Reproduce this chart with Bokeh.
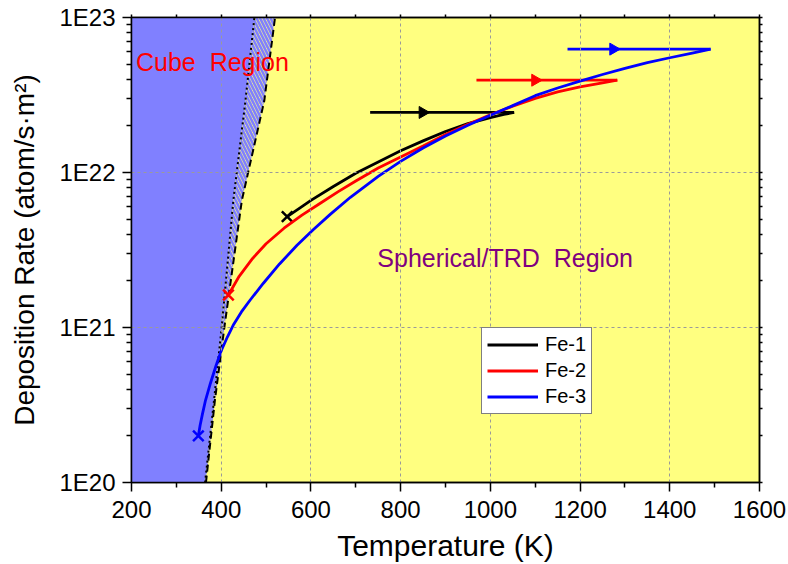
import math
from bokeh.plotting import figure
from bokeh.models import (FixedTicker, CustomJSTickFormatter, Legend, LegendItem,
                          Range1d, Label, LinearAxis, LogAxis)
from bokeh.embed import file_html
from bokeh.resources import INLINE

FONT = "Liberation Sans"

# ---- axes / ticks ----
x_ticks = [200, 400, 600, 800, 1000, 1200, 1400, 1600]
x_minor = [300, 500, 700, 900, 1100, 1300, 1500]
y_ticks = [1e20, 1e21, 1e22, 1e23]
y_minor = [k * 10.0 ** e for e in (20, 21, 22) for k in range(2, 10)]

# ---- region boundaries (deposition rate vs. limiting temperature) ----
boundary_rate = [1e20, 3.4e20, 1e21, 6.6e21, 2.9e22, 1e23]
cube_limit_T = [364, 384, 401, 427, 454, 474]      # dotted line
trd_limit_T = [366, 386, 407, 446, 496, 520]       # dashed line

# ---- series ----
fe1_T = [547, 575, 600, 650, 700, 750, 800, 850, 900, 950, 1000, 1030, 1053]
fe1_rate = [5.19e21, 5.89e21, 6.61e21, 8.13e21, 9.89e21, 1.17e22, 1.38e22,
            1.60e22, 1.84e22, 2.07e22, 2.26e22, 2.37e22, 2.44e22]

fe2_T = [416, 440, 470, 500, 540, 580, 620, 660, 700, 750, 800, 850, 900,
         950, 1000, 1050, 1100, 1150, 1200, 1250, 1283]
fe2_rate = [1.62e21, 2.14e21, 2.79e21, 3.47e21, 4.37e21, 5.31e21, 6.31e21,
            7.50e21, 8.81e21, 1.07e22, 1.26e22, 1.48e22, 1.76e22, 2.05e22,
            2.36e22, 2.68e22, 3.01e22, 3.31e22, 3.57e22, 3.78e22, 3.94e22]

fe3_T = [349, 353, 358, 365, 376, 388, 400, 414, 428, 445, 465, 494, 530, 569,
         605, 643, 688, 750, 800, 850, 900, 950, 1000, 1050, 1100, 1150, 1200,
         1250, 1300, 1350, 1400, 1450, 1491]
fe3_rate = [2.00e20, 2.34e20, 2.75e20, 3.39e20, 4.37e20, 5.62e20, 7.08e20,
            8.71e20, 1.05e21, 1.26e21, 1.51e21, 1.93e21, 2.57e21, 3.39e21,
            4.27e21, 5.37e21, 6.92e21, 9.44e21, 1.18e22, 1.44e22, 1.72e22,
            2.02e22, 2.34e22, 2.70e22, 3.13e22, 3.51e22, 3.89e22, 4.29e22,
            4.70e22, 5.11e22, 5.50e22, 5.89e22, 6.25e22]

# horizontal arrows (start T, end T, rate, arrow-head T)
arrow_start_T = [732, 969, 1172]
arrow_end_T = [1053, 1283, 1491]
arrow_rate = [2.44e22, 3.94e22, 6.25e22]
arrow_head_T = [849, 1100, 1274]

names = ["Fe-1", "Fe-2", "Fe-3"]
colors = ["black", "red", "blue"]

p = figure(width=788, height=564, x_range=Range1d(200, 1600),
           y_range=Range1d(1e20, 1e23), y_axis_type="log",
           output_backend="svg", toolbar_location=None,
           min_border_left=131, min_border_right=29, min_border_top=17,
           min_border_bottom=81)
p.background_fill_color = "#FFFF80"
p.border_fill_color = "white"
p.outline_line_color = "black"
p.outline_line_width = 1.5

# region fills
xmin = 200
blue_x = [xmin] + cube_limit_T + [xmin]
blue_y = [boundary_rate[0]] + boundary_rate + [boundary_rate[-1]]
p.patch(blue_x, blue_y, fill_color="#8080FF", line_color=None, level="underlay")
hatch_x = cube_limit_T + trd_limit_T[::-1]
hatch_y = boundary_rate + boundary_rate[::-1]
p.patch(hatch_x, hatch_y, fill_color="#FFFF80", line_color=None,
        hatch_pattern="\\", hatch_color="#8080FF", hatch_weight=2.6,
        hatch_scale=7, level="underlay")

p.line(cube_limit_T, boundary_rate, line_color="black", line_width=2,
       line_dash="2 3")
p.line(trd_limit_T, boundary_rate, line_color="black", line_width=2,
       line_dash="7 4")

# grid
for g in (p.xgrid, p.ygrid):
    g.grid_line_color = "#9a9a9a"
    g.grid_line_dash = "3 3"
    g.grid_line_width = 1
    g.level = "glyph"
p.xgrid.ticker = FixedTicker(ticks=x_ticks[1:-1])
p.ygrid.ticker = FixedTicker(ticks=y_ticks[1:-1])

# curves
series = [(fe1_T, fe1_rate), (fe2_T, fe2_rate), (fe3_T, fe3_rate)]
items = []
for i, (t, r) in enumerate(series):
    c = colors[i]
    ln = p.line(t, r, line_color=c, line_width=2.8, line_join="round")
    p.line([arrow_start_T[i], arrow_end_T[i]], [arrow_rate[i], arrow_rate[i]],
           line_color=c, line_width=2.8)
    p.scatter([arrow_head_T[i]], [arrow_rate[i]], marker="triangle",
              angle=-math.pi / 2, size=12, fill_color=c, line_color=c)
    p.scatter([t[0]], [r[0]], marker="x", size=15, line_color=c, line_width=2.5)
    items.append(LegendItem(label=names[i], renderers=[ln]))

legend = Legend(items=items, location=(350, 68))
legend.label_text_font = FONT
legend.label_text_font_size = "20px"
legend.label_text_color = "black"
legend.border_line_color = "black"
legend.border_line_width = 1
legend.background_fill_color = "white"
legend.background_fill_alpha = 1
legend.glyph_width = 51
legend.glyph_height = 23
legend.label_height = 23
legend.label_standoff = 7
legend.spacing = 3
legend.padding = 5
legend.margin = 0
p.add_layout(legend, "center")

# region texts
p.add_layout(Label(x=210, y=5.15e22, text="Cube \u00a0Region", text_color="red",
                   text_font=FONT, text_font_size="25px",
                   text_baseline="middle", text_align="left"))
p.add_layout(Label(x=748, y=2.8e21, text="Spherical/TRD \u00a0Region",
                   text_color="#800080", text_font=FONT, text_font_size="25px",
                   text_baseline="middle", text_align="left"))

# axes
p.xaxis.ticker = FixedTicker(ticks=x_ticks, minor_ticks=x_minor)
p.yaxis.ticker = FixedTicker(ticks=y_ticks, minor_ticks=y_minor)
p.yaxis.formatter = CustomJSTickFormatter(
    code="return '1E' + Math.round(Math.log10(tick));")
p.xaxis.axis_label = "Temperature (K)"
p.yaxis.axis_label = "Deposition Rate (atom/s\u00b7m\u00b2)"
for ax in (p.xaxis[0], p.yaxis[0]):
    ax.axis_line_width = 1.5
    ax.axis_line_color = "black"
    ax.major_tick_line_width = 1.5
    ax.minor_tick_line_width = 1.5
    ax.major_tick_line_color = "black"
    ax.minor_tick_line_color = "black"
    ax.major_tick_out = 9
    ax.major_tick_in = 0
    ax.minor_tick_out = 5
    ax.minor_tick_in = 0
    ax.major_label_text_font = FONT
    ax.major_label_text_font_size = "24px"
    ax.major_label_text_color = "black"
    ax.axis_label_text_font = FONT
    ax.axis_label_text_font_style = "normal"
    ax.axis_label_text_color = "black"
p.xaxis.axis_label_text_font_size = "30px"
p.yaxis.axis_label_text_font_size = "28px"
p.xaxis.major_label_standoff = 9
p.yaxis.major_label_standoff = 7
p.xaxis.axis_label_standoff = 8
p.yaxis.axis_label_standoff = 16

# unlabeled tick axes on top and right
top_ax = LinearAxis(ticker=FixedTicker(ticks=x_ticks, minor_ticks=x_minor))
right_ax = LogAxis(ticker=FixedTicker(ticks=y_ticks, minor_ticks=y_minor))
for ax in (top_ax, right_ax):
    ax.axis_line_width = 1.5
    ax.axis_line_color = "black"
    ax.major_tick_line_width = 1.5
    ax.minor_tick_line_width = 1.5
    ax.major_tick_out = 3
    ax.major_tick_in = 0
    ax.minor_tick_out = 3
    ax.minor_tick_in = 0
    ax.major_label_text_font_size = "0px"
    ax.major_label_text_color = None
    ax.major_label_standoff = 0
p.add_layout(top_ax, "above")
p.add_layout(right_ax, "right")

open("out.html", "w").write(file_html(p, INLINE))
